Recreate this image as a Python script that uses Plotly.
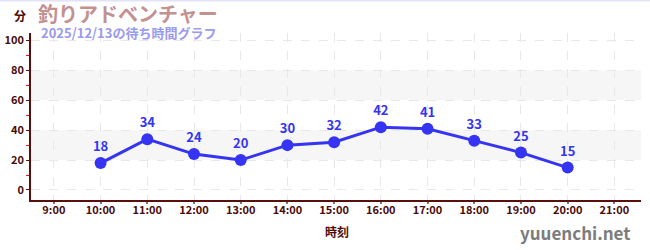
import plotly.graph_objects as go

hours = [10, 11, 12, 13, 14, 15, 16, 17, 18, 19, 20]
waits = [18, 34, 24, 20, 30, 32, 42, 41, 33, 25, 15]
tick_hours = list(range(9, 22))
tick_labels = [f"{h}:00" for h in tick_hours]
y_ticks = [0, 20, 40, 60, 80, 100]

title_text = "釣りアドベンチャー"
subtitle_text = "2025/12/13の待ち時間グラフ"
y_title = "分"
x_title = "時刻"
credit = "yuuenchi.net"

font_family = "Noto Sans CJK JP, Noto Sans, sans-serif"
axis_color = "#5a0f0f"
label_color = "#4a0a0a"
line_color = "#3434f2"

ML, MR, MT, MB = 31, 9, 33, 50

fig = go.Figure()
fig.add_trace(go.Scatter(
    x=hours, y=waits, mode="lines+markers+text",
    text=[str(v) for v in waits], textposition="top center",
    textfont=dict(color=line_color, size=13, family=font_family, weight="bold"),
    line=dict(color=line_color, width=3),
    marker=dict(color=line_color, size=12),
    cliponaxis=False, hoverinfo="skip",
))

for lo, hi in [(20, 40), (60, 80)]:
    fig.add_hrect(y0=lo, y1=hi, fillcolor="#f6f6f6", line_width=0, layer="below")

# thin top border of the page
fig.add_shape(type="line", xref="paper", yref="paper",
              x0=-ML / (650 - ML - MR), x1=1 + MR / (650 - ML - MR),
              y0=1 + (MT - 0.5) / (250 - MT - MB), y1=1 + (MT - 0.5) / (250 - MT - MB),
              line=dict(color="#e2e2f8", width=2))

fig.update_layout(
    width=650, height=250,
    margin=dict(l=ML, r=MR, t=MT, b=MB, autoexpand=False),
    paper_bgcolor="white", plot_bgcolor="white",
    showlegend=False,
    font=dict(family=font_family, color=label_color, size=11),
    xaxis=dict(
        range=[8.51, 21.57], tickvals=tick_hours, ticktext=tick_labels,
        showgrid=True, gridcolor="#e8e8e8", griddash="dash", gridwidth=1,
        showline=True, linecolor=axis_color, linewidth=1.5,
        ticks="outside", ticklen=2, tickcolor="#777777", tickwidth=1.5,
        ticklabelstandoff=-3,
        tickfont=dict(size=11, color=label_color, weight="bold"),
        zeroline=False, fixedrange=True, automargin=False,
    ),
    yaxis=dict(
        range=[-6.7, 105], tickvals=y_ticks,
        showgrid=True, gridcolor="#e8e8e8", griddash="dash", gridwidth=1,
        showline=True, linecolor=axis_color, linewidth=1.5,
        ticks="outside", ticklen=3, tickcolor=axis_color,
        tickfont=dict(size=11, color=label_color, weight="bold"),
        minor=dict(tickvals=[10, 30, 50, 70, 90], ticks="outside", ticklen=3, tickcolor="#d02020", showgrid=False),
        zeroline=False, fixedrange=True, automargin=False,
    ),
)

def px_ann(text, x, y, size, color, xanchor="left", weight="bold"):
    pw = 650 - ML - MR
    ph = 250 - MT - MB
    fig.add_annotation(
        text=text, x=(x - ML) / pw, y=1 - (y - MT) / ph,
        xref="paper", yref="paper", showarrow=False,
        xanchor=xanchor, yanchor="middle",
        font=dict(size=size, color=color, family=font_family, weight=weight),
    )

px_ann(title_text, 36, 13.5, 20, "#c49090")
px_ann(subtitle_text, 39, 32, 13, "#9a9af0")
px_ann(y_title, 12, 16, 12, label_color)
px_ann(x_title, 337, 231, 12, label_color, xanchor="center")
px_ann(credit, 632, 233, 17, "#7c7c7c", xanchor="right", weight=600)

fig.write_html("out.html")
